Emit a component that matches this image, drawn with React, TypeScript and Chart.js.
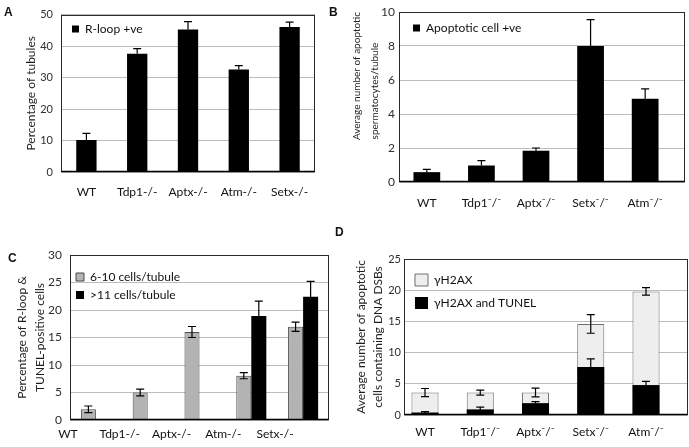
import React, { useEffect, useRef } from 'react';
import { Chart, registerables } from 'chart.js';

Chart.register(...registerables);

// ---------- data ----------
const genotypesA = ['WT', 'Tdp1-/-', 'Aptx-/-', 'Atm-/-', 'Setx-/-'];
const rloopPct = [10.2, 37.6, 45.3, 32.6, 46.1];
const rloopErr = [2.1, 1.6, 2.5, 1.2, 1.5];
const ticksA = [0, 10, 20, 30, 40, 50];

const genotypesB = ['WT', 'Tdp1⁻/⁻', 'Aptx⁻/⁻', 'Setx⁻/⁻', 'Atm⁻/⁻'];
const apoptoticAvg = [0.58, 0.97, 1.84, 8.0, 4.89];
const apoptoticErr = [0.16, 0.29, 0.16, 1.55, 0.59];
const ticksB = [0, 2, 4, 6, 8, 10];

const genotypesC = ['WT', 'Tdp1-/-', 'Aptx-/-', 'Atm-/-', 'Setx-/-'];
const cells6to10 = [1.95, 5.0, 16.0, 8.05, 16.95];
const cells6to10Err = [0.6, 0.6, 1.0, 0.55, 0.85];
const cellsOver11 = [0, 0, 0, 18.9, 22.4];
const cellsOver11Err = [0, 0, 0, 2.7, 2.8];
const ticksC = [0, 5, 10, 15, 20, 25, 30];

const genotypesD = ['WT', 'Tdp1⁻/⁻', 'Aptx⁻/⁻', 'Setx⁻/⁻', 'Atm⁻/⁻'];
const h2axTotal = [3.6, 3.6, 3.6, 14.6, 19.8];
const h2axTotalErr = [0.65, 0.4, 0.7, 1.5, 0.6];
const h2axTunel = [0.4, 0.9, 1.9, 7.7, 4.8];
const h2axTunelErr = [0.15, 0.35, 0.25, 1.3, 0.6];
const ticksD = [0, 5, 10, 15, 20, 25];

// ---------- styling ----------
const FONT = 'Lato, "Open Sans", sans-serif';
const TICK_COLOR = '#2e2e2e';
const LABEL_COLOR = '#111';
const GRID_COLOR = '#bdbdbd';

// ---------- plugins ----------
const framePlugin = {
  id: 'frame',
  afterDatasetsDraw(chart: any) {
    const { ctx, chartArea } = chart;
    const l = Math.round(chartArea.left) + 0.5;
    const t = Math.round(chartArea.top) + 0.5;
    const r = Math.round(chartArea.right) - 0.5;
    const b = Math.round(chartArea.bottom) - 0.5;
    ctx.save();
    ctx.strokeStyle = '#2a2a2a';
    ctx.lineWidth = 1;
    ctx.strokeRect(l, t, r - l, b - t);
    ctx.strokeStyle = '#000';
    ctx.lineWidth = 1.5;
    ctx.beginPath();
    ctx.moveTo(l, b);
    ctx.lineTo(r, b);
    ctx.stroke();
    ctx.restore();
  },
};

const errorBarPlugin = {
  id: 'errorBars',
  afterDatasetsDraw(chart: any) {
    const { ctx } = chart;
    const yScale = chart.scales.y;
    chart.data.datasets.forEach((ds: any, di: number) => {
      const errs: number[] | undefined = ds.errors;
      if (!errs) return;
      const meta = chart.getDatasetMeta(di);
      meta.data.forEach((bar: any, i: number) => {
        const e = errs[i];
        if (!e) return;
        const v = meta.controller.getParsed(i).y;
        const yTop = yScale.getPixelForValue(v + e);
        const yBot = ds.errorDown ? yScale.getPixelForValue(v - e) : bar.y;
        const cap = 4;
        ctx.save();
        ctx.strokeStyle = '#000';
        ctx.lineWidth = 1.2;
        ctx.beginPath();
        ctx.moveTo(bar.x, yTop);
        ctx.lineTo(bar.x, yBot);
        ctx.moveTo(bar.x - cap, yTop);
        ctx.lineTo(bar.x + cap, yTop);
        if (ds.errorDown) {
          ctx.moveTo(bar.x - cap, yBot);
          ctx.lineTo(bar.x + cap, yBot);
        }
        ctx.stroke();
        ctx.restore();
      });
    });
  },
};

// ---------- helpers ----------
function yAxis(
  tickValues: number[],
  title: string | string[],
  opts: { width: number; tickPad: number; tickSize: number; titleSize: number; lineHeight: number; titlePad: number; align?: string }
) {
  return {
    min: tickValues[0],
    max: tickValues[tickValues.length - 1],
    afterBuildTicks: (s: any) => {
      s.ticks = tickValues.map((v) => ({ value: v }));
    },
    ticks: { padding: opts.tickPad, color: TICK_COLOR, font: { family: FONT, size: opts.tickSize } },
    grid: { color: GRID_COLOR, drawTicks: false, lineWidth: 1 },
    border: { display: false },
    title: {
      display: true,
      text: title,
      align: opts.align || 'center',
      color: '#1e1e1e',
      font: { family: FONT, size: opts.titleSize, lineHeight: opts.lineHeight },
      padding: { top: opts.titlePad, bottom: 0 },
    },
    afterFit: (s: any) => {
      s.width = opts.width;
    },
  };
}

function categoryX(labels: string[], height: number, pad: number, labelOffset = 0) {
  return {
    type: 'category',
    labels,
    grid: { display: false, drawTicks: false },
    border: { display: false },
    ticks: {
      padding: pad,
      labelOffset,
      color: LABEL_COLOR,
      font: { family: FONT, size: 12 },
      autoSkip: false,
      maxRotation: 0,
    },
    afterFit: (s: any) => {
      s.height = height;
    },
  };
}

function linearX(labels: string[], min: number, max: number, height: number, pad: number) {
  return {
    type: 'linear',
    min,
    max,
    offset: false,
    afterBuildTicks: (s: any) => {
      s.ticks = labels.map((_, i) => ({ value: i }));
    },
    grid: { display: false, drawTicks: false },
    border: { display: false },
    ticks: {
      padding: pad,
      color: LABEL_COLOR,
      font: { family: FONT, size: 12 },
      autoSkip: false,
      maxRotation: 0,
      callback: (v: number) => labels[Math.round(v)] ?? '',
    },
    afterFit: (s: any) => {
      s.height = height;
    },
  };
}

// legend inside the plot area; "extraTop" pushes the first entry down from the canvas top
function legend(opts: { pad: number; box: number; boxH?: number; extraTop?: number; size?: number; reverse?: boolean }) {
  const extra = opts.extraTop || 0;
  return {
    display: true,
    position: 'chartArea',
    align: 'start',
    reverse: !!opts.reverse,
    title: {
      display: extra > 0,
      text: '',
      font: { size: 1, lineHeight: 1 },
      padding: { top: (extra - 1) / 2, bottom: (extra - 1) / 2 },
    },
    labels: {
      boxWidth: opts.box,
      boxHeight: opts.boxH || opts.box,
      padding: opts.pad,
      color: '#111',
      font: { family: FONT, size: opts.size || 12 },
    },
  };
}

const basePlugins = [framePlugin, errorBarPlugin];

// ---------- chart configs ----------
function configA(): any {
  return {
    type: 'bar',
    data: {
      labels: genotypesA,
      datasets: [
        {
          label: 'R-loop +ve',
          data: rloopPct,
          backgroundColor: '#000',
          borderWidth: 0,
          barPercentage: 0.4,
          categoryPercentage: 1,
          errors: rloopErr,
          errorDown: false,
        },
      ],
    },
    options: {
      responsive: false,
      animation: false,
      events: [],
      layout: { padding: { left: 0, right: 30, top: 9, bottom: 8 } },
      plugins: { legend: legend({ pad: 11, box: 7, extraTop: 12 }), tooltip: { enabled: false } },
      scales: {
        x: categoryX(genotypesA, 40, 13),
        y: yAxis(ticksA, 'Percentage of tubules', { width: 61, tickPad: 8, tickSize: 11, titleSize: 12, lineHeight: 1.2, titlePad: 24 }),
      },
    },
    plugins: basePlugins,
  };
}

function configB(): any {
  return {
    type: 'bar',
    data: {
      datasets: [
        {
          label: 'Apoptotic cell +ve',
          data: apoptoticAvg.map((y, i) => ({ x: i, y })),
          backgroundColor: '#000',
          borderWidth: 0,
          barPercentage: 0.49,
          categoryPercentage: 1,
          errors: apoptoticErr,
          errorDown: false,
        },
      ],
    },
    options: {
      responsive: false,
      animation: false,
      events: [],
      layout: { padding: { left: 0, right: 4, top: 12, bottom: 8 } },
      plugins: { legend: legend({ pad: 14, box: 7, extraTop: 8, size: 12 }), tooltip: { enabled: false } },
      scales: {
        x: linearX(genotypesB, -0.51, 4.73, 30, 14),
        y: yAxis(ticksB, ['Average number of apoptotic', 'spermatocytes/tubule            '], {
          width: 54,
          tickPad: 4,
          tickSize: 12,
          titleSize: 10,
          lineHeight: 1.8,
          titlePad: 3,
          align: 'end',
        }),
      },
    },
    plugins: basePlugins,
  };
}

function configC(): any {
  return {
    type: 'bar',
    data: {
      labels: genotypesC,
      datasets: [
        {
          label: '6-10 cells/tubule',
          data: cells6to10,
          backgroundColor: '#b3b3b3',
          borderColor: '#4a4a4a',
          borderWidth: 1,
          barPercentage: 1,
          categoryPercentage: 0.58,
          errors: cells6to10Err,
          errorDown: true,
        },
        {
          label: '>11 cells/tubule',
          data: cellsOver11,
          backgroundColor: '#000',
          borderColor: '#000',
          borderWidth: 0,
          barPercentage: 1,
          categoryPercentage: 0.58,
          errors: cellsOver11Err,
          errorDown: true,
        },
      ],
    },
    options: {
      responsive: false,
      animation: false,
      events: [],
      layout: { padding: { left: 0, right: 16, top: 35, bottom: 5 } },
      plugins: { legend: legend({ pad: 6, box: 8, extraTop: 45 }), tooltip: { enabled: false } },
      scales: {
        x: categoryX(genotypesC, 22, 7, -28),
        y: yAxis(ticksC, ['Percentage of R-loop &', 'TUNEL-positive cells'], {
          width: 70,
          tickPad: 8,
          tickSize: 12,
          titleSize: 12,
          lineHeight: 1.5,
          titlePad: 13,
        }),
      },
    },
    plugins: basePlugins,
  };
}

function configD(): any {
  return {
    type: 'bar',
    data: {
      datasets: [
        {
          label: 'γH2AX and TUNEL',
          data: h2axTunel.map((y, i) => ({ x: i, y })),
          backgroundColor: '#000',
          borderWidth: 0,
          grouped: false,
          barPercentage: 0.49,
          categoryPercentage: 1,
          errors: h2axTunelErr,
          errorDown: true,
        },
        {
          label: 'γH2AX',
          data: h2axTotal.map((y, i) => ({ x: i, y })),
          backgroundColor: '#eeeeee',
          borderColor: '#6e6e6e',
          borderWidth: 1,
          grouped: false,
          barPercentage: 0.49,
          categoryPercentage: 1,
          errors: h2axTotalErr,
          errorDown: true,
        },
      ],
    },
    options: {
      responsive: false,
      animation: false,
      events: [],
      layout: { padding: { left: 0, right: 1, top: 39, bottom: 7 } },
      plugins: { legend: legend({ pad: 11, box: 13, boxH: 12, extraTop: 43, reverse: true }), tooltip: { enabled: false } },
      scales: {
        x: linearX(genotypesD, -0.38, 4.76, 25, 10),
        y: yAxis(ticksD, ['Average number of apoptotic', 'cells containing DNA DSBs'], {
          width: 59,
          tickPad: 3,
          tickSize: 11,
          titleSize: 12,
          lineHeight: 1.42,
          titlePad: 7.5,
        }),
      },
    },
    plugins: basePlugins,
  };
}

// ---------- components ----------
function ChartPanel(props: { left: number; top: number; width: number; height: number; config: () => any }) {
  const ref = useRef<HTMLCanvasElement | null>(null);
  useEffect(() => {
    if (!ref.current) return;
    const chart = new Chart(ref.current, props.config());
    return () => chart.destroy();
  }, []);
  return (
    <canvas
      ref={ref}
      width={props.width}
      height={props.height}
      style={{ position: 'absolute', left: props.left, top: props.top, width: props.width, height: props.height }}
    />
  );
}

function PanelLetter(props: { text: string; left: number; top: number }) {
  return (
    <div
      style={{
        position: 'absolute',
        left: props.left,
        top: props.top,
        fontFamily: '"Liberation Sans", Arial, sans-serif',
        fontWeight: 'bold',
        fontSize: 12,
        lineHeight: '12px',
        color: '#111',
      }}
    >
      {props.text}
    </div>
  );
}

export default function App() {
  return (
    <div style={{ position: 'absolute', left: 0, top: 0, width: 689, height: 447, background: '#fff' }}>
      <ChartPanel left={0} top={0} width={345} height={220} config={configA} />
      <ChartPanel left={345} top={0} width={344} height={220} config={configB} />
      <ChartPanel left={0} top={220} width={345} height={227} config={configC} />
      <ChartPanel left={345} top={220} width={344} height={227} config={configD} />
      <PanelLetter text="A" left={4} top={6} />
      <PanelLetter text="B" left={329} top={6} />
      <PanelLetter text="C" left={8} top={252} />
      <PanelLetter text="D" left={335} top={226} />
    </div>
  );
}
